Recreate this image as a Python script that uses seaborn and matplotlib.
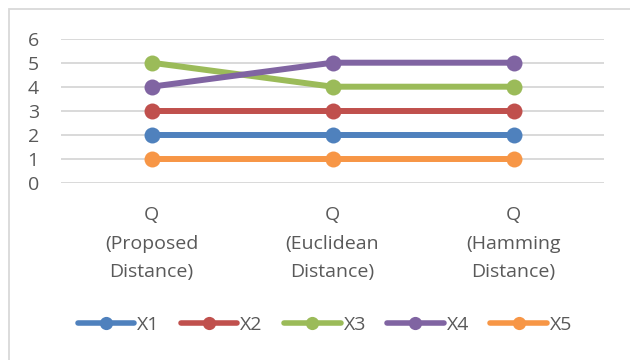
import matplotlib
matplotlib.use("Agg")
import matplotlib.pyplot as plt
import seaborn as sns
import pandas as pd
from matplotlib.patches import Rectangle
from matplotlib.lines import Line2D

categories = ["Q\n(Proposed\nDistance)", "Q\n(Euclidean\nDistance)", "Q\n(Hamming\nDistance)"]
series_names = ["X1", "X2", "X3", "X4", "X5"]
x1 = [2, 2, 2]
x2 = [3, 3, 3]
x3 = [5, 4, 4]
x4 = [4, 5, 5]
x5 = [1, 1, 1]
y_ticks = [0, 1, 2, 3, 4, 5, 6]

colors = ["#4F81BD", "#C0504D", "#9BBB59", "#8064A2", "#F79646"]
text_color = "#595959"
grid_color = "#D9D9D9"
font_size = 14

rows = []
for name, vals in zip(series_names, [x1, x2, x3, x4, x5]):
    for i, v in enumerate(vals):
        rows.append({"pos": i, "value": v, "series": name})
df = pd.DataFrame(rows)

sns.set_style("white")
plt.rcParams["font.family"] = ["Open Sans", "DejaVu Sans"]

W, H = 630, 360
fig = plt.figure(figsize=(W / 100, H / 100), dpi=100)
fig.patch.set_facecolor("white")

# chart-area frame (runs past the right and bottom edges)
fig.patches.append(Rectangle((9 / W, -0.2), 1.3, 1 - 9 / H + 0.2,
                             transform=fig.transFigure, fill=False,
                             edgecolor=grid_color, linewidth=1.3, zorder=0))

ax = fig.add_axes([61 / W, 1 - 182.7 / H, 543 / W, 144 / H])
sns.lineplot(data=df, x="pos", y="value", hue="series", hue_order=series_names,
             palette=colors, marker="o", markersize=11.5, markeredgewidth=0,
             linewidth=4.3, legend=False, ax=ax, zorder=3)

ax.set_xlim(-0.5, 2.5)
ax.set_ylim(0, 6)
ax.set_yticks(y_ticks)
ax.set_xticks(range(len(categories)))
ax.set_xticklabels(categories, linespacing=1.74)
ax.set_xlabel("")
ax.set_ylabel("")
for s in ax.spines.values():
    s.set_visible(False)
ax.grid(axis="y", color=grid_color, linewidth=1.4, zorder=0)
ax.grid(axis="x", visible=False)
ax.tick_params(axis="both", length=0, labelsize=font_size, labelcolor=text_color)
ax.tick_params(axis="y", pad=16)
ax.tick_params(axis="x", pad=17)
ax.set_axisbelow(True)

handles = [Line2D([0], [0], color=c, linewidth=4.0, marker="o", markersize=9.5,
                  markeredgewidth=0) for c in colors]
fig.legend(handles, series_names, loc="center", bbox_to_anchor=(325 / W, 1 - 325 / H),
           ncol=5, frameon=False, handlelength=2.9, handletextpad=0.15,
           columnspacing=1.1, fontsize=font_size, labelcolor=text_color)

fig.savefig("out.png", dpi=100, facecolor="white")
